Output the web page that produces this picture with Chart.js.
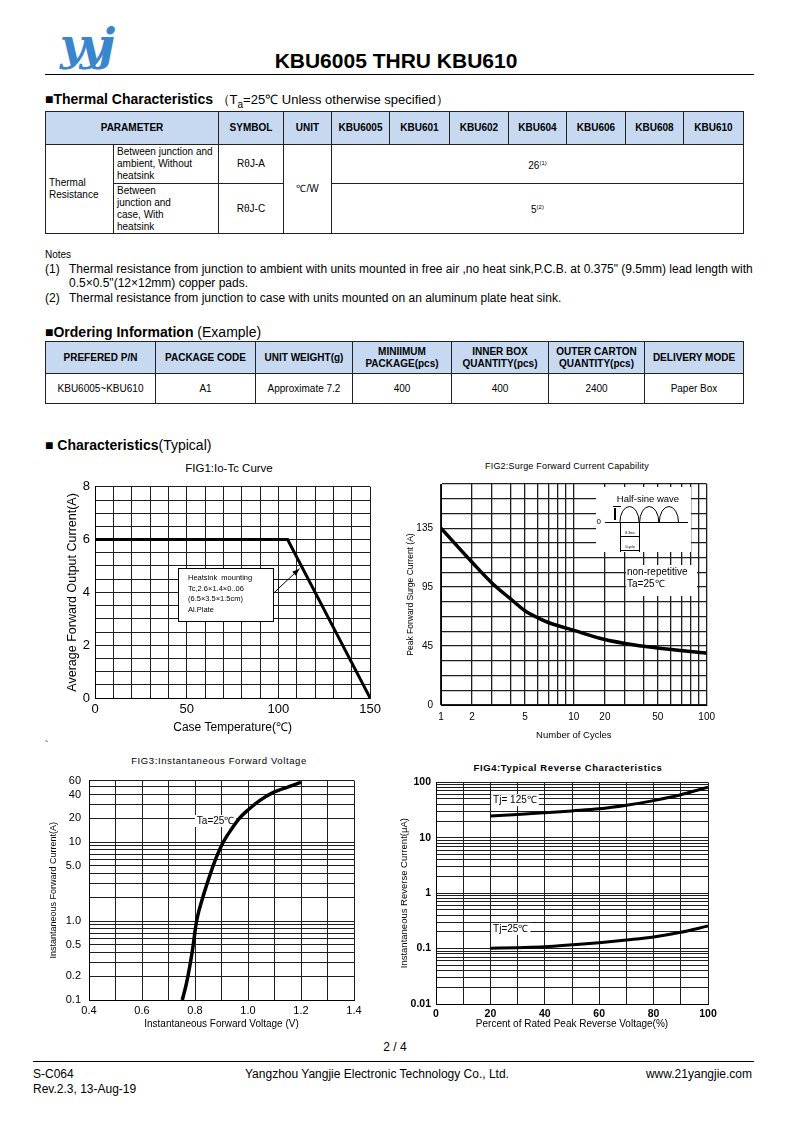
<!DOCTYPE html>
<html>
<head>
<meta charset="utf-8">
<script src="https://cdn.jsdelivr.net/npm/chart.js@4.4.1/dist/chart.umd.min.js"></script>
<style>
body{margin:0;background:#fff;font-family:"Liberation Sans",Arial,sans-serif;color:#000}
#page{position:relative;width:793px;height:1122px;overflow:hidden}
.t{position:absolute;line-height:1;white-space:nowrap;transform:translateY(-50%)}
.c{transform:translate(-50%,-50%)}
canvas{position:absolute}
table{position:absolute;border-collapse:collapse;table-layout:fixed;font-size:10px}
td,th{border:1px solid #222;padding:0 3px;text-align:center;vertical-align:middle;line-height:12px}
th{background:#c6d9f1;font-weight:bold}
sup{font-size:6px;vertical-align:4px}
.hr{position:absolute;height:0;border-top:1px solid #000}
</style>
</head>
<body>
<div id="page">
  <div class="t" style="left:60px;top:44px;font:italic bold 44px 'DejaVu Serif';color:#3a86cc;letter-spacing:-6px">yyj</div>
  <div class="t c" style="left:396px;top:60px;font-weight:bold;font-size:21px">KBU6005 THRU KBU610</div>
  <div class="hr" style="left:45px;top:74px;width:709px"></div>

  <div class="t" style="left:45px;top:101px;font-size:13px"><b style="font-size:14px">■Thermal Characteristics</b> （T<sub style="font-size:10px">a</sub>=25℃ Unless otherwise specified）</div>

  <table style="left:45px;top:111px;width:699px">
    <colgroup><col style="width:68px"><col style="width:105px"><col style="width:65px"><col style="width:48px"><col style="width:58px"><col style="width:60px"><col style="width:59px"><col style="width:58px"><col style="width:59px"><col style="width:58px"><col style="width:60px"></colgroup>
    <tr style="height:33px"><th colspan="2">PARAMETER</th><th>SYMBOL</th><th>UNIT</th><th>KBU6005</th><th>KBU601</th><th>KBU602</th><th>KBU604</th><th>KBU606</th><th>KBU608</th><th>KBU610</th></tr>
    <tr style="height:39px"><td rowspan="2" style="text-align:left">Thermal<br>Resistance</td><td style="text-align:left">Between junction and ambient, Without heatsink</td><td>RθJ-A</td><td rowspan="2">℃/W</td><td colspan="7">26<sup>(1)</sup></td></tr>
    <tr style="height:50px"><td style="text-align:left">Between<br>junction and<br>case, With<br>heatsink</td><td>RθJ-C</td><td colspan="7">5<sup>(2)</sup></td></tr>
  </table>

  <div class="t" style="left:45px;top:255px;font-size:10px">Notes</div>
  <div class="t" style="left:45px;top:269px;font-size:12px">(1)</div>
  <div class="t" style="left:69px;top:269px;font-size:12px">Thermal resistance from junction to ambient with units mounted in free air ,no heat sink,P.C.B. at 0.375" (9.5mm) lead length with</div>
  <div class="t" style="left:69px;top:283px;font-size:12px">0.5×0.5"(12×12mm) copper pads.</div>
  <div class="t" style="left:45px;top:298px;font-size:12px">(2)</div>
  <div class="t" style="left:69px;top:298px;font-size:12px">Thermal resistance from junction to case with units mounted on an aluminum plate heat sink.</div>

  <div class="t" style="left:45px;top:332px;font-size:14px"><b>■Ordering Information</b> (Example)</div>
  <table style="left:45px;top:341px;width:699px">
    <colgroup><col style="width:110px"><col style="width:100px"><col style="width:97px"><col style="width:99px"><col style="width:97px"><col style="width:96px"><col style="width:99px"></colgroup>
    <tr style="height:32px"><th>PREFERED P/N</th><th>PACKAGE CODE</th><th>UNIT WEIGHT(g)</th><th>MINIIMUM<br>PACKAGE(pcs)</th><th>INNER BOX<br>QUANTITY(pcs)</th><th>OUTER CARTON<br>QUANTITY(pcs)</th><th>DELIVERY MODE</th></tr>
    <tr style="height:30px"><td>KBU6005~KBU610</td><td>A1</td><td>Approximate 7.2</td><td>400</td><td>400</td><td>2400</td><td>Paper Box</td></tr>
  </table>

  <div class="t" style="left:45px;top:445px;font-size:14px"><b>■ Characteristics</b>(Typical)</div>

  <div class="t c" style="left:229px;top:469px;font-size:11.5px">FIG1:Io-Tc Curve</div>
  <div class="t c" style="left:567px;top:466px;font-size:9px;letter-spacing:0.2px">FIG2:Surge Forward Current Capability</div>
  <div class="t" style="left:45px;top:746px;font-size:10px">`</div>
  <div class="t c" style="left:219px;top:761px;font-size:9.5px;letter-spacing:0.6px">FIG3:Instantaneous Forward Voltage</div>
  <div class="t c" style="left:568px;top:768px;font-size:9.5px;letter-spacing:0.6px;font-weight:bold">FIG4:Typical Reverse Characteristics</div>

  <canvas id="fig1"></canvas>
  <canvas id="fig2"></canvas>
  <canvas id="fig3"></canvas>
  <canvas id="fig4"></canvas>

  <div class="t c" style="left:395px;top:1047px;font-size:12px">2 / 4</div>
  <div class="hr" style="left:33px;top:1061px;width:721px"></div>
  <div class="t" style="left:33px;top:1074px;font-size:12px">S-C064</div>
  <div class="t" style="left:33px;top:1089px;font-size:12px">Rev.2.3, 13-Aug-19</div>
  <div class="t" style="left:245px;top:1074px;font-size:12px">Yangzhou Yangjie Electronic Technology Co., Ltd.</div>
  <div class="t" style="right:41px;top:1074px;font-size:12px">www.21yangjie.com</div>
</div>

<script>
// FIG1: Io - Tc derating
const caseTemp = [0, 105, 150];
const outputCurrent = [6, 6, 0];
const fig1XLabels = [0, 50, 100, 150];
const fig1YLabels = [0, 2, 4, 6, 8];

// FIG2: surge forward current vs cycles (y in grid units, 11.25 per line)
const cycles = [1, 2, 3, 4, 5, 6, 7, 10, 20, 30, 50, 100];
const surgeCurrent = [135, 109, 93, 81, 72, 66.5, 63, 57, 50, 47, 43.5, 39.5];
const fig2XLabels = [1, 2, 5, 10, 20, 50, 100];
const fig2YLabels = ['0', '45', '95', '135'];

// FIG3: forward voltage vs current
const forwardVoltage = [0.752, 0.769, 0.791, 0.806, 0.831, 0.85, 0.875, 0.904, 0.938, 0.969, 1.0, 1.045, 1.096, 1.152, 1.2];
const forwardCurrent = [0.1, 0.17, 0.44, 1.0, 2.07, 3.3, 5.75, 9.6, 14.6, 20.2, 25.5, 33.7, 42.5, 50, 57];
const fig3XLabels = ['0.4', '0.6', '0.8', '1.0', '1.2', '1.4'];
const fig3YValues = [0.1, 0.2, 0.5, 1, 5, 10, 20, 40, 60];
const fig3YLabels = ['0.1', '0.2', '0.5', '1.0', '5.0', '10', '20', '40', '60'];

// FIG4: reverse current vs percent of rated voltage
const ratedPercent = [20, 30, 40, 50, 60, 70, 80, 90, 100];
const reverseTj125 = [24.6, 26.2, 28.2, 30.5, 33.2, 38.5, 46.7, 59.5, 81.5];
const reverseTj25 = [0.101, 0.104, 0.108, 0.117, 0.128, 0.143, 0.162, 0.197, 0.255];
const fig4XLabels = [0, 20, 40, 60, 80, 100];
const fig4YLabels = ['0.01', '0.1', '1', '10', '100'];

Chart.defaults.font.family = '"Liberation Sans", Arial, sans-serif';
Chart.defaults.color = '#000';

// the cycles axis in FIG2 is drawn with its own (non-true-log) spacing inside each decade
const decadeFraction = [0, 0.234, 0.385, 0.524, 0.632, 0.73, 0.808, 0.876, 0.938, 1];
class CycleScale extends Chart.LogarithmicScale {
    getPixelForValue(value) {
        if (value === undefined || value === null || isNaN(value)) return NaN;
        const e = Math.floor(Math.log10(value) + 1e-9);
        const m = value / Math.pow(10, e);
        const k = Math.min(Math.max(Math.floor(m + 1e-9), 1), 9);
        const f = decadeFraction[k - 1] + (m - k) * (decadeFraction[k] - decadeFraction[k - 1]);
        const s = Math.log10(this.min), r = Math.log10(this.max) - s;
        return this.getPixelForDecimal((e + f - s) / r);
    }
}
CycleScale.id = 'cycles';
CycleScale.defaults = Chart.LogarithmicScale.defaults;
Chart.register(CycleScale);

const pts = (xs, ys) => xs.map((x, i) => ({x: x, y: ys[i]}));

function logGrid(lo, hi) {
    const out = [];
    for (let e = Math.floor(Math.log10(lo)); e <= Math.ceil(Math.log10(hi)); e++) {
        for (let m = 1; m < 10; m++) {
            const v = +(m * Math.pow(10, e)).toPrecision(6);
            if (v >= lo * 0.999 && v <= hi * 1.001) out.push(v);
        }
    }
    return out;
}
const near = (a, b) => Math.abs(a - b) < 1e-6 * Math.max(1, Math.abs(b));

const grid = (w) => ({color: '#1e1e1e', lineWidth: w || 1, drawTicks: false});
const border = {color: '#000', width: 1};

function plotChart(id, box, cfg) {
    const c = document.getElementById(id);
    const w = box.yW + (box.r - box.l) + box.padR;
    const h = box.padT + (box.b - box.t) + box.xH;
    c.width = w; c.height = h;
    c.style.width = w + 'px'; c.style.height = h + 'px';
    c.style.left = (box.l - box.yW) + 'px';
    c.style.top = (box.t - box.padT) + 'px';
    const o = cfg.options;
    o.responsive = false;
    o.animation = false;
    o.devicePixelRatio = 1;
    o.layout = {padding: {top: box.padT, right: box.padR, left: 0, bottom: 0}};
    o.scales.x.afterFit = s => { s.height = box.xH; };
    o.scales.y.afterFit = s => { s.width = box.yW; };
    o.plugins = Object.assign({legend: {display: false}, tooltip: {enabled: false}}, o.plugins || {});
    return new Chart(c, cfg);
}

function textLabels(items) {
    return {
        id: 'textLabels',
        beforeDatasetsDraw(chart) {
            const {ctx, scales: {x, y}} = chart;
            ctx.save();
            items.forEach(it => {
                ctx.font = it.size + 'px "Liberation Sans", Arial';
                ctx.textBaseline = 'middle';
                const px = x.getPixelForValue(it.x), py = y.getPixelForValue(it.y);
                const tw = ctx.measureText(it.text).width;
                ctx.fillStyle = '#fff';
                ctx.fillRect(px - 2, py - it.size * 0.6, tw + 4, it.size * 1.2);
                ctx.fillStyle = '#000';
                ctx.fillText(it.text, px, py);
            });
            ctx.restore();
        }
    };
}

// ---------- FIG1 ----------
const fig1Note = ['Heatsink  mounting', 'Tc,2.6×1.4×0..06', '(6.5×3.5×1.5cm)', 'Al.Plate'];
const fig1NotePlugin = {
    id: 'fig1Note',
    afterDatasetsDraw(chart) {
        const {ctx, scales: {x, y}} = chart;
        const l = Math.round(x.getPixelForValue(45)), r = Math.round(x.getPixelForValue(97));
        const t = Math.round(y.getPixelForValue(4.93)), b = Math.round(y.getPixelForValue(2.93));
        ctx.save();
        ctx.fillStyle = '#fff';
        ctx.fillRect(l, t, r - l, b - t);
        ctx.strokeStyle = '#000';
        ctx.lineWidth = 1;
        ctx.strokeRect(l + 0.5, t + 0.5, r - l, b - t);
        ctx.fillStyle = '#000';
        ctx.font = '7.5px "Liberation Sans", Arial';
        ctx.textBaseline = 'middle';
        fig1Note.forEach((s, i) => ctx.fillText(s, l + 10, t + 10 + i * 10.6));
        const ax = r, ay = y.getPixelForValue(3.95);
        const bx = x.getPixelForValue(111.5), by = y.getPixelForValue(4.9);
        ctx.beginPath(); ctx.moveTo(ax, ay); ctx.lineTo(bx, by); ctx.stroke();
        const ang = Math.atan2(by - ay, bx - ax);
        ctx.beginPath();
        ctx.moveTo(bx, by);
        ctx.lineTo(bx - 8 * Math.cos(ang - 0.35), by - 8 * Math.sin(ang - 0.35));
        ctx.lineTo(bx - 8 * Math.cos(ang + 0.35), by - 8 * Math.sin(ang + 0.35));
        ctx.closePath(); ctx.fill();
        ctx.restore();
    }
};

plotChart('fig1', {l: 95, t: 482, r: 373, b: 698, yW: 37, xH: 42, padT: 8, padR: 12}, {
    type: 'line',
    data: {datasets: [{data: pts(caseTemp, outputCurrent), borderColor: '#000', borderWidth: 3, pointRadius: 0, tension: 0}]},
    options: {
        scales: {
            x: {type: 'linear', min: 0, max: 150, grid: grid(), border: border,
                ticks: {stepSize: 10, autoSkip: false, maxRotation: 0, padding: 4, font: {size: 13},
                        callback: v => fig1XLabels.includes(v) ? String(v) : ''},
                title: {display: true, text: 'Case Temperature(℃)', font: {size: 12}, padding: {top: 0, bottom: 5}}},
            y: {type: 'linear', min: 0, max: 8, grid: grid(), border: border,
                ticks: {stepSize: 0.5, autoSkip: false, padding: 5, font: {size: 13},
                        callback: v => fig1YLabels.includes(v) ? String(v) : ''},
                title: {display: true, text: 'Average Forward Output Current(A)', font: {size: 12.5}, padding: {top: 7, bottom: 0}}}
        }
    },
    plugins: [fig1NotePlugin]
});

// ---------- FIG2 ----------
const fig2Inset = {
    id: 'fig2Inset',
    beforeDatasetsDraw(chart) {
        const {ctx, chartArea: a} = chart;
        const X = v => a.left + v, Y = v => a.top + v;
        ctx.save();
        ctx.fillStyle = '#fff';
        ctx.fillRect(X(155), Y(3), 95, 65);
        ctx.fillRect(X(185), Y(81), 71, 31);
        ctx.fillStyle = '#000';
        ctx.strokeStyle = '#000';
        ctx.font = '9.5px "Liberation Sans", Arial';
        ctx.textBaseline = 'middle';
        ctx.textAlign = 'center';
        ctx.fillText('Half-sine wave', X(207), Y(15));
        ctx.textAlign = 'right';
        ctx.font = '8px "Liberation Sans", Arial';
        ctx.fillText('0', X(160), Y(38));
        ctx.lineWidth = 1;
        ctx.beginPath(); ctx.moveTo(X(164), Y(38.5)); ctx.lineTo(X(247), Y(38.5)); ctx.stroke();
        for (let k = 0; k < 3; k++) {
            ctx.beginPath();
            ctx.ellipse(X(188.5 + k * 19.7), Y(38.5), 9.6, 16, 0, Math.PI, 2 * Math.PI);
            ctx.stroke();
        }
        ctx.beginPath();
        ctx.moveTo(X(172), Y(22.5)); ctx.lineTo(X(180), Y(22.5));
        ctx.moveTo(X(179.5), Y(38)); ctx.lineTo(X(179.5), Y(68));
        ctx.moveTo(X(198.5), Y(38)); ctx.lineTo(X(198.5), Y(68));
        ctx.moveTo(X(179.5), Y(52.5)); ctx.lineTo(X(198.5), Y(52.5));
        ctx.moveTo(X(179.5), Y(66.5)); ctx.lineTo(X(198.5), Y(66.5));
        ctx.stroke();
        ctx.fillRect(X(173), Y(24), 2, 12);
        ctx.font = '3.5px "Liberation Sans", Arial';
        ctx.textAlign = 'center';
        ctx.fillText('8.3ms', X(189), Y(49.5));
        ctx.fillText('1cycle', X(189), Y(63.5));
        ctx.textAlign = 'left';
        ctx.font = '10px "Liberation Sans", Arial';
        ctx.fillText('non-repetitive', X(186), Y(88));
        ctx.fillText('Ta=25℃', X(186), Y(100));
        ctx.restore();
    }
};

const fig2Step = 11.25;
plotChart('fig2', {l: 441, t: 478, r: 707, b: 705, yW: 41, xH: 40, padT: 8, padR: 14}, {
    type: 'line',
    data: {datasets: [{data: pts(cycles, surgeCurrent), borderColor: '#000', borderWidth: 3.5, pointRadius: 0, cubicInterpolationMode: 'monotone'}]},
    options: {
        scales: {
            x: {type: 'cycles', min: 1, max: 100, grid: grid(1.3), border: border,
                afterBuildTicks: s => { s.ticks = logGrid(1, 100).map(v => ({value: v})); },
                ticks: {autoSkip: false, maxRotation: 0, padding: 6, font: {size: 10},
                        callback: v => fig2XLabels.some(l => near(v, l)) ? String(v) : ''},
                title: {display: true, text: 'Number of Cycles', font: {size: 9.5}, padding: {top: 0, bottom: 4}}},
            y: {type: 'linear', min: 0, max: 15 * fig2Step, grid: grid(1.3), border: border,
                afterBuildTicks: s => { s.ticks = Array.from({length: 16}, (_, i) => ({value: i * fig2Step})); },
                ticks: {autoSkip: false, padding: 8, font: {size: 10},
                        callback: (v, i) => (i % 4 === 0 && i / 4 < fig2YLabels.length) ? fig2YLabels[i / 4] : ''},
                title: {display: true, text: 'Peak Forward Surge Current (A)', font: {size: 8.5}, padding: {top: 6, bottom: 0}}}
        }
    },
    plugins: [fig2Inset]
});

// ---------- FIG3 ----------
plotChart('fig3', {l: 89, t: 774, r: 354, b: 1000, yW: 44, xH: 32, padT: 8, padR: 12}, {
    type: 'line',
    data: {datasets: [{data: pts(forwardVoltage, forwardCurrent), borderColor: '#000', borderWidth: 3.5, pointRadius: 0, cubicInterpolationMode: 'monotone'}]},
    options: {
        scales: {
            x: {type: 'linear', min: 0.4, max: 1.4, grid: grid(), border: border,
                ticks: {stepSize: 0.1, autoSkip: false, maxRotation: 0, padding: 4, font: {size: 11},
                        callback: v => { const s = v.toFixed(1); return fig3XLabels.includes(s) ? s : ''; }},
                title: {display: true, text: 'Instantaneous Forward Voltage (V)', font: {size: 10}, padding: {top: 0, bottom: 2}}},
            y: {type: 'logarithmic', min: 0.1, max: 60, grid: grid(), border: border,
                afterBuildTicks: s => { s.ticks = logGrid(0.1, 60).map(v => ({value: v})); },
                ticks: {autoSkip: false, padding: 8, font: {size: 11},
                        callback: v => { const k = fig3YValues.findIndex(l => near(v, l)); return k >= 0 ? fig3YLabels[k] : ''; }},
                title: {display: true, text: 'Instantaneous Forward Current(A)', font: {size: 9}, padding: {top: 3, bottom: 0}}}
        }
    },
    plugins: [textLabels([{x: 0.807, y: 18.5, text: 'Ta=25℃', size: 10}])]
});

// ---------- FIG4 ----------
plotChart('fig4', {l: 436, t: 779, r: 708, b: 1004, yW: 40, xH: 29, padT: 8, padR: 14}, {
    type: 'line',
    data: {datasets: [
        {data: pts(ratedPercent, reverseTj125), borderColor: '#000', borderWidth: 3, pointRadius: 0, cubicInterpolationMode: 'monotone'},
        {data: pts(ratedPercent, reverseTj25), borderColor: '#000', borderWidth: 3, pointRadius: 0, cubicInterpolationMode: 'monotone'}
    ]},
    options: {
        scales: {
            x: {type: 'linear', min: 0, max: 100, grid: grid(), border: border,
                ticks: {stepSize: 10, autoSkip: false, maxRotation: 0, padding: 4, font: {size: 10.5, weight: 'bold'},
                        callback: v => fig4XLabels.includes(v) ? String(v) : ''},
                title: {display: true, text: 'Percent of Rated Peak Reverse Voltage(%)', font: {size: 10}, padding: {top: 0, bottom: 3}}},
            y: {type: 'logarithmic', min: 0.01, max: 100, grid: grid(), border: border,
                afterBuildTicks: s => { s.ticks = logGrid(0.01, 100).map(v => ({value: v})); },
                ticks: {autoSkip: false, padding: 5, font: {size: 10.5, weight: 'bold'},
                        callback: v => { const k = fig4YLabels.findIndex(l => near(v, +l)); return k >= 0 ? fig4YLabels[k] : ''; }},
                title: {display: true, text: 'Instantaneous Reverse Current(μA)', font: {size: 9.5}, padding: {top: 3, bottom: 0}}}
        }
    },
    plugins: [textLabels([
        {x: 21, y: 47.6, text: 'Tj= 125℃', size: 10},
        {x: 21, y: 0.227, text: 'Tj=25℃', size: 10}
    ])]
});
</script>
</body>
</html>
